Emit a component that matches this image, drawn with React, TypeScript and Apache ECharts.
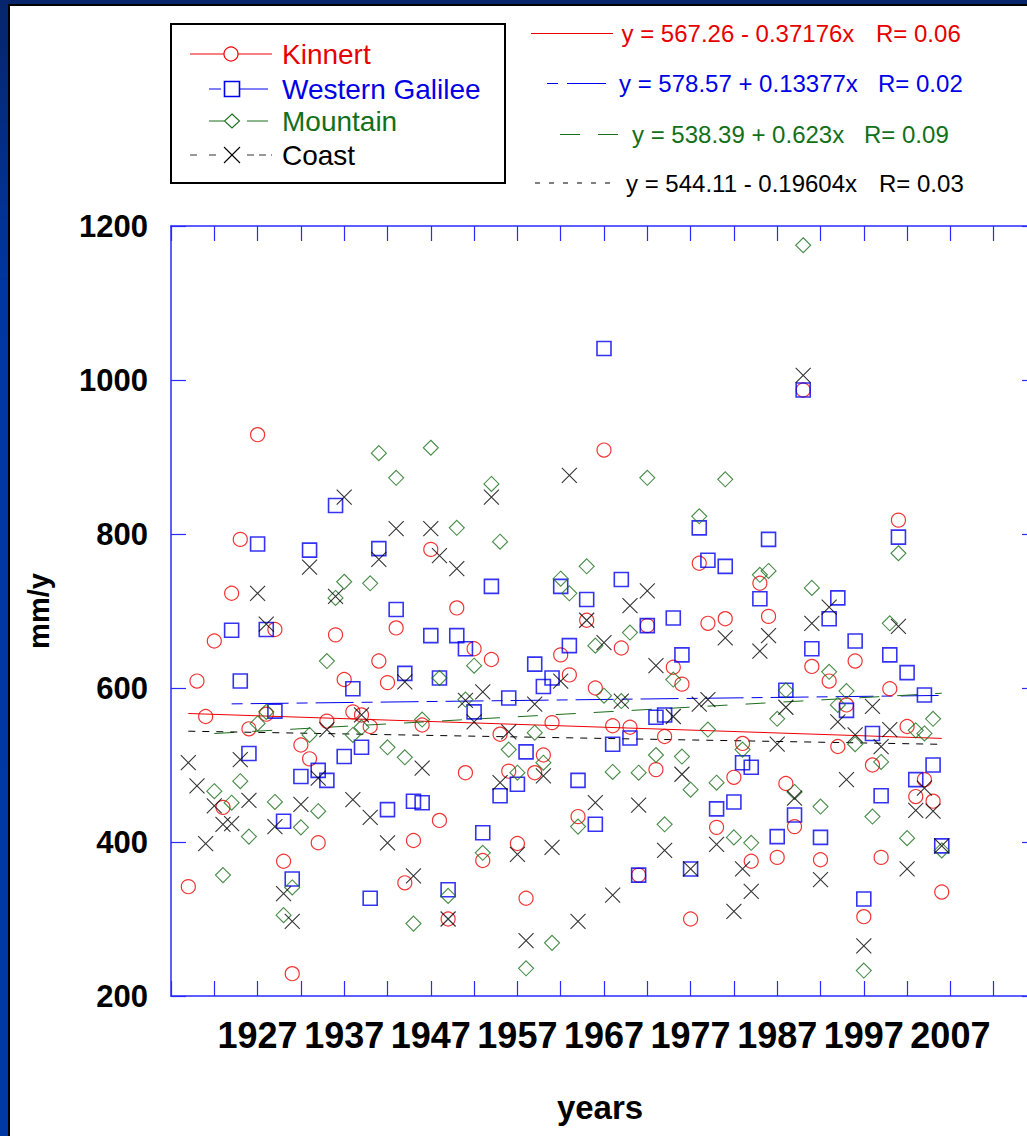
import React, { useEffect, useRef } from "react";
import * as echarts from "echarts";

// ---------- DATA ----------
const firstYear = 1919;
const lastYear = 2006;
const fitOriginYear = 1918; // regression x = year - 1918

const seriesNames = ["Kinnert", "Western Galilee", "Mountain", "Coast"];

const kinnert = [
  342, 609, 563, 661, 445, 723, 793, 547, 929, 566, 676, 375, 229, 526, 508, 399, 557, 669, 611, 569, 565, 550, 635,
  607, 678, 347, 402, 552, 780, 428, 300, 704, 490, 651, 376, 637, 540, 492, 398, 327, 490, 513, 555, 643, 617,
  433, 688, 600, 909, 551, 652, 549, 357, 681, 494, 537, 627, 605, 300, 762, 684, 419, 690, 484, 528, 375, 736,
  693, 380, 476, 420, 987, 628, 377, 609, 524, 578, 635, 303, 500, 380, 599, 818, 550, 459, 481, 453, 335,
];

const westernGalilee = [
  null, null, null, null, null,
  675, 609, 515, 787, 676, 570, 427, 352, 485, 779, 493, 480, 837, 511, 599, 523, 327, 781,
  442, 702, 619, 453, 451, 668, 613, 338, 668, 651, 569, 412, 732, 460, 587, 475, 517, 631, 602, 613, 732, 655,
  480, 715, 423, 1041, 527, 741, 535, 357, 681, 562, 565, 691, 643, 365, 808, 766, 443, 758, 452, 503, 497, 716,
  793, 407, 597, 435, 987, 651, 406, 690, 717, 571, 661, 326, 541, 460, 643, 796, 620, 481, 591, 500, 395,
];

const mountain = [
  null, null, null,
  466, 357, 451, 479, 407, 554, 569, 452, 305, 341, 419, 539, 440, 635, 717, 738, 539, 549, 736, 905,
  523, 873, 510, 294, 559, 912, 613, 330, 808, 585, 629, 386, 865, 790, 520, 490, 236, 542, 503, 269, 742, 723,
  420, 758, 655, 590, 491, 583, 672, 490, 873, 513, 423, 611, 511, 468, 823, 546, 477, 871, 406, 520, 399, 747,
  752, 560, 597, 465, 1175, 730, 446, 621, 578, 596, 527, 233, 433, 504, 684, 775, 405, 545, 541, 560, 389,
];

const coast = [
  503, 473, 398, 447, 423, 424, 507, 454, 723, 683, 420, 333, 297, 449, 757, 483, 546, 719, 848, 455, 565, 432, 767,
  399, 807, 608, 356, 496, 807, 772, 300, 755, 584, 556, 595, 848, 477, 543, 384, 272, 579, 486, 393, 609, 876,
  297, 688, 451, 659, 331, 583, 707, 448, 726, 629, 389, 563, 488, 365, 579, 585, 397, 665, 310, 365, 336, 648,
  668, 527, 575, 457, 1006, 684, 351, 705, 556, 481, 539, 265, 576, 524, 546, 680, 365, 441, 470, 440, 395,
];

const fitIntercept = [567.26, 578.57, 538.39, 544.11];
const fitSlope = [-0.37176, 0.13377, 0.623, -0.19604];
const fitR = ["0.06", "0.02", "0.09", "0.03"];

const xTickLabels = [1927, 1937, 1947, 1957, 1967, 1977, 1987, 1997, 2007];
const xMin = 1917;
const xMax = 2017;
const xStep = 5;
const yMin = 200;
const yMax = 1200;
const yStep = 200;

// ---------- STYLE ----------
const FONT = '"Liberation Sans", Arial, Helvetica, sans-serif';
const lineColors = ["#ee0000", "#0000ee", "#1a6e1a", "#000000"];
const textColors = ["#e60000", "#0000e6", "#12701a", "#000000"];
const axisColor = "#2a2aff";
const fitDash: any[] = ["solid", [11, 8, 38, 8], [20, 18], [7, 7]];
const X_PATH = "path://M0,0L16,16M16,0L0,16";
const symbols = ["circle", "rect", "diamond", X_PATH];
const symbolSizes = [14, 14, 15, 15];
const symbolStroke = [1.2, 1.6, 1.1, 1.1];

const allSeries = [kinnert, westernGalilee, mountain, coast];

function buildOption() {
  const scatter = allSeries.map((vals, k) => ({
    type: "scatter",
    name: seriesNames[k],
    symbol: symbols[k],
    symbolSize: symbolSizes[k],
    itemStyle: {
      color: "transparent",
      borderColor: lineColors[k],
      borderWidth: symbolStroke[k],
    },
    data: vals
      .map((v, i) => (v == null ? null : [firstYear + i, v]))
      .filter((d) => d !== null),
    z: 3,
  }));

  const fits = allSeries.map((vals, k) => {
    const firstIdx = vals.findIndex((v) => v != null);
    const y0 = firstYear + firstIdx;
    const f = (yr: number) => fitIntercept[k] + fitSlope[k] * (yr - fitOriginYear);
    return {
      type: "line",
      name: seriesNames[k] + " fit",
      symbol: "none",
      silent: true,
      lineStyle: { color: lineColors[k], width: 1, type: fitDash[k] },
      data: [
        [y0, f(y0)],
        [lastYear, f(lastYear)],
      ],
      z: 2,
    };
  });

  const axisCommonX = {
    type: "value",
    min: xMin,
    max: xMax,
    interval: xStep,
    splitLine: { show: false },
    axisLine: { show: true, onZero: false, lineStyle: { color: axisColor, width: 1.5 } },
    axisTick: { show: true, inside: true, length: 15, lineStyle: { color: axisColor, width: 1.2 } },
  };
  const axisCommonY = {
    type: "value",
    min: yMin,
    max: yMax,
    interval: yStep,
    splitLine: { show: false },
    axisLine: { show: true, onZero: false, lineStyle: { color: axisColor, width: 1.5 } },
    axisTick: { show: true, inside: true, length: 15, lineStyle: { color: axisColor, width: 1.2 } },
  };

  // legend + equations (graphic)
  const g: any[] = [];
  g.push({
    type: "rect",
    shape: { x: 171, y: 24, width: 334, height: 159 },
    style: { fill: "#fff", stroke: "#000", lineWidth: 2 },
  });
  const legY = [54, 89, 121, 155];
  // Kinnert
  g.push({ type: "line", shape: { x1: 190, y1: legY[0], x2: 272, y2: legY[0] }, style: { stroke: lineColors[0], lineWidth: 1 } });
  g.push({ type: "circle", shape: { cx: 231, cy: legY[0], r: 7 }, style: { fill: "#fff", stroke: lineColors[0], lineWidth: 1.2 } });
  // Western Galilee
  g.push({ type: "line", shape: { x1: 209, y1: legY[1], x2: 221, y2: legY[1] }, style: { stroke: lineColors[1], lineWidth: 1 } });
  g.push({ type: "line", shape: { x1: 239, y1: legY[1], x2: 268, y2: legY[1] }, style: { stroke: lineColors[1], lineWidth: 1 } });
  g.push({ type: "rect", shape: { x: 224.5, y: legY[1] - 7.5, width: 15, height: 15 }, style: { fill: "none", stroke: lineColors[1], lineWidth: 1.6 } });
  // Mountain
  g.push({ type: "line", shape: { x1: 209, y1: legY[2], x2: 224, y2: legY[2] }, style: { stroke: lineColors[2], lineWidth: 1 } });
  g.push({ type: "line", shape: { x1: 247, y1: legY[2], x2: 268, y2: legY[2] }, style: { stroke: lineColors[2], lineWidth: 1 } });
  g.push({
    type: "polygon",
    shape: { points: [[232, legY[2] - 7], [239.5, legY[2]], [232, legY[2] + 7], [224.5, legY[2]]] },
    style: { fill: "none", stroke: lineColors[2], lineWidth: 1.1 },
  });
  // Coast
  g.push({ type: "line", shape: { x1: 190, y1: legY[3], x2: 222, y2: legY[3] }, style: { stroke: "#333", lineWidth: 1, lineDash: [7, 12] } });
  g.push({ type: "line", shape: { x1: 247, y1: legY[3], x2: 272, y2: legY[3] }, style: { stroke: "#333", lineWidth: 1, lineDash: [7, 5] } });
  g.push({ type: "line", shape: { x1: 224, y1: legY[3] - 8, x2: 240, y2: legY[3] + 8 }, style: { stroke: "#000", lineWidth: 1.1 } });
  g.push({ type: "line", shape: { x1: 240, y1: legY[3] - 8, x2: 224, y2: legY[3] + 8 }, style: { stroke: "#000", lineWidth: 1.1 } });
  seriesNames.forEach((n, k) => {
    g.push({
      type: "text",
      x: 282,
      y: legY[k],
      style: { text: n, fill: textColors[k], fontSize: 28, fontFamily: FONT, align: "left", verticalAlign: "middle" },
    });
  });

  // equations
  const eqY = [33.5, 83.5, 134.5, 183];
  const eqX = [621.5, 619, 632, 626];
  const rX = [876, 878, 864, 879];
  g.push({ type: "line", shape: { x1: 531, y1: eqY[0], x2: 613, y2: eqY[0] }, style: { stroke: lineColors[0], lineWidth: 1 } });
  g.push({ type: "line", shape: { x1: 547, y1: eqY[1], x2: 558, y2: eqY[1] }, style: { stroke: lineColors[1], lineWidth: 1 } });
  g.push({ type: "line", shape: { x1: 567, y1: eqY[1], x2: 606, y2: eqY[1] }, style: { stroke: lineColors[1], lineWidth: 1 } });
  g.push({ type: "line", shape: { x1: 560, y1: eqY[2], x2: 580, y2: eqY[2] }, style: { stroke: lineColors[2], lineWidth: 1 } });
  g.push({ type: "line", shape: { x1: 598, y1: eqY[2], x2: 618, y2: eqY[2] }, style: { stroke: lineColors[2], lineWidth: 1 } });
  g.push({ type: "line", shape: { x1: 535, y1: eqY[3], x2: 618, y2: eqY[3] }, style: { stroke: "#000", lineWidth: 1, lineDash: [5, 9] } });
  seriesNames.forEach((_, k) => {
    const s = fitSlope[k];
    const eq = `y = ${fitIntercept[k].toFixed(2)} ${s < 0 ? "-" : "+"} ${String(Math.abs(s))}x`;
    g.push({
      type: "text",
      x: eqX[k],
      y: eqY[k],
      style: { text: eq, fill: textColors[k], fontSize: 24, fontFamily: FONT, align: "left", verticalAlign: "middle" },
    });
    g.push({
      type: "text",
      x: rX[k],
      y: eqY[k],
      style: { text: `R= ${fitR[k]}`, fill: textColors[k], fontSize: 24, fontFamily: FONT, align: "left", verticalAlign: "middle" },
    });
  });

  // axis titles
  g.push({
    type: "text",
    x: 39,
    y: 611,
    rotation: Math.PI / 2,
    style: { text: "mm/y", fill: "#000", fontSize: 29, fontWeight: "bold", fontFamily: FONT, align: "center", verticalAlign: "middle" },
  });
  g.push({
    type: "text",
    x: 600,
    y: 1107,
    style: { text: "years", fill: "#000", fontSize: 33, fontWeight: "bold", fontFamily: FONT, align: "center", verticalAlign: "middle" },
  });

  return {
    animation: false,
    backgroundColor: "transparent",
    textStyle: { fontFamily: FONT },
    grid: { left: 171, top: 226, width: 866, height: 770, containLabel: false },
    xAxis: [
      {
        ...axisCommonX,
        position: "bottom",
        axisLabel: {
          show: true,
          formatter: (v: number) => (xTickLabels.indexOf(Math.round(v)) >= 0 ? String(Math.round(v)) : ""),
          fontSize: 36,
          lineHeight: 36,
          fontWeight: "bold",
          fontFamily: FONT,
          color: "#000",
          margin: 21,
        },
      },
      { ...axisCommonX, position: "top", axisLabel: { show: false } },
    ],
    yAxis: [
      {
        ...axisCommonY,
        position: "left",
        axisLabel: {
          show: true,
          formatter: (v: number) => String(Math.round(v)),
          fontSize: 31,
          fontWeight: "bold",
          fontFamily: FONT,
          color: "#000",
          margin: 23,
        },
      },
      { ...axisCommonY, position: "right", axisLabel: { show: false } },
    ],
    graphic: g,
    series: [...fits, ...scatter],
  };
}

export default function App() {
  const ref = useRef<HTMLDivElement>(null);
  useEffect(() => {
    if (!ref.current) return;
    const chart = echarts.init(ref.current, null, { renderer: "svg" });
    chart.setOption(buildOption() as any);
    return () => chart.dispose();
  }, []);
  return (
    <div
      style={{
        position: "absolute",
        left: 0,
        top: 0,
        width: 1027,
        height: 1136,
        overflow: "hidden",
        background: "linear-gradient(to bottom, #06256b 0%, #0036a0 25%, #0039a6 100%)",
      }}
    >
      <div
        style={{
          position: "absolute",
          left: 8,
          top: 4,
          right: 0,
          bottom: 0,
          background: "#fff",
          borderLeft: "2px solid #000",
          borderTop: "2px solid #000",
        }}
      />
      <div ref={ref} style={{ position: "absolute", left: 0, top: 0, width: 1040, height: 1136 }} />
    </div>
  );
}
